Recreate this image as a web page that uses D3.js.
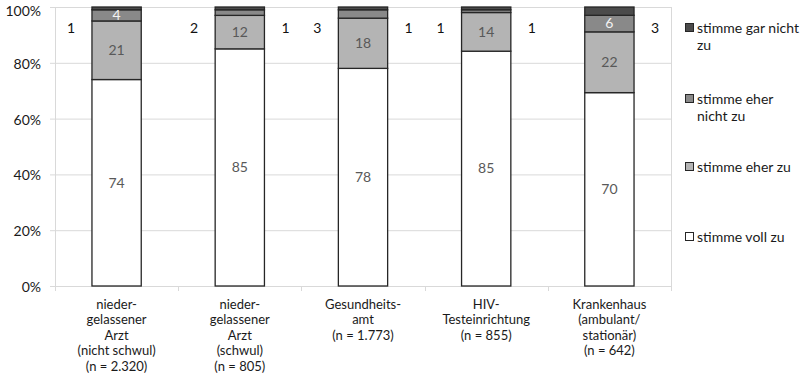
<!DOCTYPE html>
<html><head><meta charset="utf-8">
<script src="https://cdn.jsdelivr.net/npm/d3@7"></script>
<style>body{margin:0;background:#fff}svg{display:block}text{font-family:Lato,"Open Sans",sans-serif}</style>
</head><body><svg id="c" width="805" height="377"></svg>
<script>
const categories = [
  ["nieder-","gelassener","Arzt","(nicht schwul)","(n = 2.320)"],
  ["nieder-","gelassener","Arzt","(schwul)","(n = 805)"],
  ["Gesundheits-","amt","(n = 1.773)"],
  ["HIV-","Testeinrichtung","(n = 855)"],
  ["Krankenhaus","(ambulant/","stationär)","(n = 642)"]
];
const seriesNames = ["stimme voll zu","stimme eher zu","stimme eher nicht zu","stimme gar nicht zu"];
const legendLines = [["stimme voll zu"],["stimme eher zu"],["stimme eher","nicht zu"],["stimme gar nicht","zu"]];
const vollZu = [74,85,78,85,70];
const eherZu = [21,12,18,14,22];
const eherNicht = [4,2,3,1,6];
const garNicht = [1,1,1,1,3];
// which small labels sit outside the bar
const eherNichtLabel = ["in","left","left","left","in"];
const garNichtLabel = ["left","right","right","right","right"];
const yTicks = [0,0.2,0.4,0.6,0.8,1];

const colors = ["#ffffff","#b4b4b4","#898989","#4b4b4b"];
const svg = d3.select("#c");
const L = 55, R = 671, T = 7, B = 286;
const x = d3.scaleBand().domain(d3.range(categories.length)).range([L,R]).paddingInner(0.6).paddingOuter(0.3);
const band = d3.scaleBand().domain(d3.range(categories.length)).range([L,R]);
const y = d3.scaleLinear().domain([0,1]).range([B,T]);

const rows = categories.map((c,i)=>({i, s0:vollZu[i], s1:eherZu[i], s2:eherNicht[i], s3:garNicht[i]}));
const stack = d3.stack().keys(["s0","s1","s2","s3"]).offset(d3.stackOffsetExpand);
const layers = stack(rows);

svg.append("g").selectAll("line").data(yTicks).join("line")
  .attr("x1",L).attr("x2",R).attr("y1",d=>y(d)+0.5).attr("y2",d=>y(d)+0.5)
  .attr("stroke","#d9d9d9").attr("stroke-width",1);
[L,R].forEach(xx=>svg.append("line").attr("x1",xx+0.5).attr("x2",xx+0.5).attr("y1",T).attr("y2",B+5).attr("stroke","#d9d9d9"));
svg.append("g").selectAll("line").data(yTicks).join("line")
  .attr("x1",L-5).attr("x2",L).attr("y1",d=>y(d)+0.5).attr("y2",d=>y(d)+0.5).attr("stroke","#d9d9d9");
svg.append("g").selectAll("line").data(d3.range(categories.length+1)).join("line")
  .attr("x1",d=>Math.round(L+d*band.bandwidth())+0.5).attr("x2",d=>Math.round(L+d*band.bandwidth())+0.5)
  .attr("y1",B).attr("y2",B+5).attr("stroke","#d9d9d9");
svg.append("g").selectAll("text").data(yTicks).join("text")
  .attr("x",41).attr("y",d=>Math.max(y(d)+1,11)).attr("dy","0.35em").attr("text-anchor","end")
  .attr("font-size",14).attr("fill","#1a1a1a").text(d=>d3.format(".0%")(d));

const g = svg.append("g");
layers.forEach((layer,k)=>{
  g.append("g").selectAll("rect").data(layer).join("rect")
    .attr("x",d=>x(d.data.i)).attr("width",x.bandwidth())
    .attr("y",d=>y(d[1])).attr("height",d=>y(d[0])-y(d[1]))
    .attr("fill",colors[k]).attr("stroke","#262626").attr("stroke-width",1.3);
});

const insideVals = [vollZu, eherZu, eherNicht];
const insideFlags = [null,null,eherNichtLabel];
layers.slice(0,3).forEach((layer,k)=>{
  layer.forEach((d,i)=>{
    if (insideFlags[k] && insideFlags[k][i] !== "in") return;
    svg.append("text").attr("x",x(i)+x.bandwidth()/2).attr("y",y((d[0]+d[1])/2)).attr("dy","0.35em")
      .attr("text-anchor","middle").attr("font-size",14)
      .attr("fill",k===2?"#f2f2f2":"#595959").text(insideVals[k][i]);
  });
});
function outside(vals, flags){
  vals.forEach((v,i)=>{
    if (flags[i]==="in") return;
    const cx = x(i)+x.bandwidth()/2;
    const off = x.bandwidth()/2 + 21;
    svg.append("text").attr("x",flags[i]==="left"?cx-off:cx+off).attr("y",y(0.925)).attr("dy","0.35em")
      .attr("text-anchor","middle").attr("font-size",14).attr("fill","#111").text(v);
  });
}
outside(eherNicht, eherNichtLabel);
outside(garNicht, garNichtLabel);

categories.forEach((lines,i)=>{
  const t = svg.append("text").attr("text-anchor","middle").attr("font-size",13).attr("fill","#1a1a1a");
  lines.forEach((ln,j)=>t.append("tspan").attr("x",band(i)+band.bandwidth()/2).attr("y",304+j*15.6).attr("dy","0.35em").text(ln));
});

const legY = [237,167,99,28];
legendLines.forEach((lines,k)=>{
  const yy = legY[k];
  svg.append("rect").attr("x",685.5).attr("y",yy-4.5).attr("width",8).attr("height",8)
    .attr("fill",colors[k]).attr("stroke","#262626").attr("stroke-width",1);
  const t = svg.append("text").attr("font-size",14).attr("fill","#1a1a1a");
  lines.forEach((ln,j)=>t.append("tspan").attr("x",697).attr("y",yy+j*17).attr("dy","0.35em").text(ln));
});
</script></body></html>
